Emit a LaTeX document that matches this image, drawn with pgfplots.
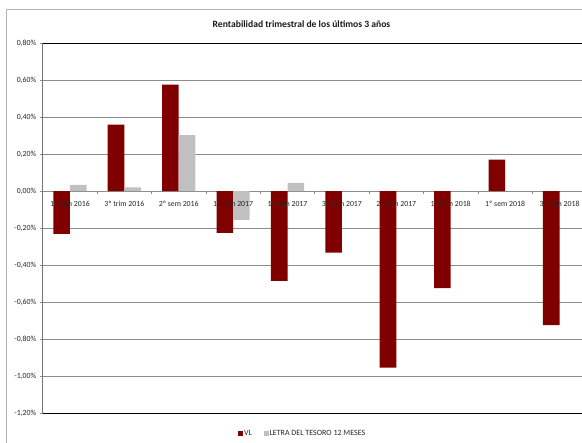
\documentclass[border=0pt]{standalone}
\usepackage{fontspec}
\setmainfont{Carlito}
\usepackage{pgfplots}
\pgfplotsset{compat=1.18}
\definecolor{vlred}{HTML}{800000}
\definecolor{letragray}{HTML}{C0C0C0}
\definecolor{gridgray}{HTML}{8C8C8C}
\definecolor{framegray}{HTML}{B4B4B4}
% tick labels above the bars, grid below them
\pgfplotsset{layers/labelsontop/.define layer set={
  axis background,axis grid,axis ticks,axis lines,main,axis tick labels,axis descriptions,axis foreground}{
  grid style={/pgfplots/on layer=axis grid},
  tick style={/pgfplots/on layer=axis ticks},
  axis line style={/pgfplots/on layer=axis lines},
  label style={/pgfplots/on layer=axis descriptions},
  legend style={/pgfplots/on layer=axis descriptions},
  title style={/pgfplots/on layer=axis descriptions},
  ticklabel style={/pgfplots/on layer=axis tick labels},
  }}

\begin{document}
\begin{tikzpicture}
\begin{axis}[
  set layers=labelsontop,
  scale only axis, width=544pt, height=370.5pt,
  clip=false,
  xmin=-0.5, xmax=9.5, ymin=-1.2, ymax=0.8,
  ybar=0pt, bar width=16.6pt,
  axis x line=middle, axis y line=left,
  x axis line style={gridgray, line width=0.8pt, -},
  y axis line style={black!55, line width=0.8pt, -},
  hide obscured y ticks=false,
  xtick={0,...,9},
  xticklabels={1º sem 2016, 3º trim 2016, 2º sem 2016, 1º trim 2017, 1º sem 2017,
               3º trim 2017, 2º sem 2017, 1º trim 2018, 1º sem 2018, 3º trim 2018},
  minor xtick={0.5,1.5,...,8.5},
  major x tick style={draw=none},
  minor x tick style={gridgray, line width=0.8pt},
  minor tick length=3pt,
  ytick={-1.2,-1,-0.8,-0.6,-0.4,-0.2,0,0.2,0.4,0.6,0.8},
  y tick style={gridgray, line width=0.8pt},
  major tick length=3pt, tick align=outside,
  ymajorgrids, grid style={gridgray, line width=0.8pt},
  yticklabel={\pgfmathprintnumber[fixed,fixed zerofill,precision=2,use comma,assume math mode=true]{\tick}\%},
  tick label style={font=\fontsize{7.8}{9}\selectfont, text=black!85},
  xticklabel style={yshift=-3.5pt},
  legend style={at={(0.477,-0.0553)}, anchor=center, draw=none, fill=none,
    font=\fontsize{8}{9}\selectfont, text=black!85,
    nodes={inner sep=0.8pt},
    /tikz/every even column/.append style={column sep=11pt}},
  legend columns=2,
  legend image code/.code={\fill[#1] (0pt,-2.5pt) rectangle (5pt,2.5pt);},
]
\addplot[fill=vlred, draw=none] coordinates {
  (0,-0.230) (1,0.360) (2,0.575) (3,-0.225) (4,-0.484)
  (5,-0.332) (6,-0.952) (7,-0.523) (8,0.171) (9,-0.723)};
\addplot[fill=letragray, draw=none] coordinates {
  (0,0.034) (1,0.020) (2,0.303) (3,-0.155) (4,0.045)};
\legend{VL, LETRA DEL TESORO 12 MESES}
\draw[black, line width=0.9pt] (rel axis cs:0,1) -- (rel axis cs:1,1);
\draw[black, line width=0.9pt] (rel axis cs:0,0) -- (rel axis cs:1,0);
% outer chart frame, cropped on the right and at the bottom
\draw[framegray, line width=1pt] (rel axis cs:-0.06654,-0.2) -- (rel axis cs:-0.06654,1.09042) -- (rel axis cs:1.1,1.09042);
\node[font=\fontsize{9.6}{11}\selectfont\bfseries, text=black!90] at (rel axis cs:0.4757,1.0505)
  {Rentabilidad trimestral de los últimos 3 años};
\coordinate (pagebl) at (rel axis cs:-0.0785,-0.0796);
\coordinate (pagetr) at (rel axis cs:0.99136,1.11606);
\end{axis}
\pgfresetboundingbox
\useasboundingbox (pagebl) rectangle (pagetr);
\end{tikzpicture}
\end{document}
